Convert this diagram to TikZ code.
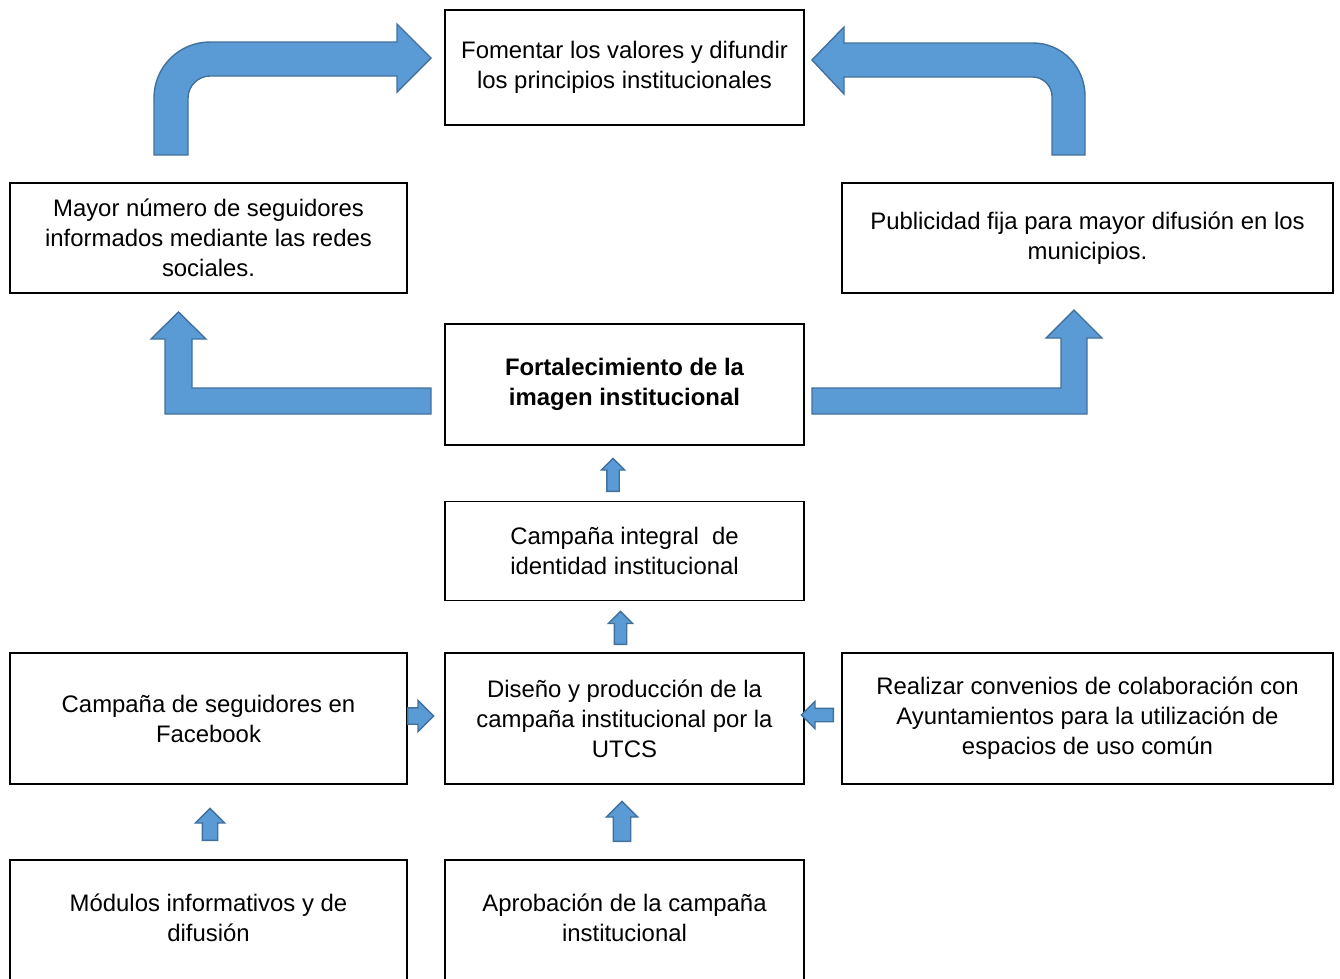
\documentclass[tikz,border=0pt]{standalone}
\usepackage{fontspec}
\setmainfont{Liberation Sans}
\usetikzlibrary{shapes.arrows}
\definecolor{arrowfill}{HTML}{5B9BD5}
\definecolor{arrowline}{HTML}{41719C}
\tikzset{box/.style={draw,line width=1.1pt,align=center,inner sep=0pt,
    font=\fontsize{13.6}{17.1}\selectfont},
  blockarrow/.style={single arrow,draw=arrowline,fill=arrowfill,line width=0.8pt,
    inner xsep=0pt,single arrow tip angle=90,anchor=tail},
  bigarrow/.style={draw=arrowline,fill=arrowfill,line width=0.8pt,line join=miter}}
\begin{document}
\begin{tikzpicture}[x=0.02cm,y=-0.02cm]
        \clip (0,0) rectangle (1340,978);
        \fill[white] (0,0) rectangle (1340,978);

        \node [box,minimum width=7.18cm,minimum height=2.3cm] (fomentar) at (624.5,67.5)
          {Fomentar los valores y difundir\\los principios institucionales};
        \node [box,minimum width=7.94cm,minimum height=2.2cm] (mayor) at (208.5,238)
          {Mayor número de seguidores\\informados mediante las redes\\sociales.};
        \node [box,minimum width=9.82cm,minimum height=2.2cm] (publicidad) at (1087.5,238)
          {Publicidad fija para mayor difusión en los\\municipios.};
        \node [box,minimum width=7.18cm,minimum height=2.42cm,font=\fontsize{13.6}{17.1}\selectfont\bfseries]
          (fortalecimiento) at (624.5,384.5) {Fortalecimiento de la\\imagen institucional};
        \node [box,minimum width=7.18cm,minimum height=1.98cm] (integral) at (624.5,551)
          {Campaña integral\ \ de\\identidad institucional};
        \node [box,minimum width=7.18cm,minimum height=2.62cm] (diseno) at (624.5,718.5)
          {Diseño y producción de la\\campaña institucional por la\\UTCS};
        \node [box,minimum width=7.94cm,minimum height=2.62cm] (facebook) at (208.5,718.5)
          {Campaña de seguidores en\\Facebook};
        \node [box,minimum width=9.82cm,minimum height=2.62cm] (convenios) at (1087.5,718.5)
          {Realizar convenios de colaboración con\\Ayuntamientos para la utilización de\\espacios de uso común};
        % the two lowest boxes run past the bottom edge
        \node [box,minimum width=7.94cm,minimum height=2.6cm,text depth=0.28cm] (modulos) at (208.5,925)
          {Módulos informativos y de\\difusión};
        \node [box,minimum width=7.18cm,minimum height=2.6cm,text depth=0.28cm] (aprobacion) at (624.5,925)
          {Aprobación de la campaña\\institucional};

        % small arrows between the boxes
        \node [blockarrow,rotate=90,minimum height=0.66cm,inner ysep=0.11cm,
          single arrow head extend=0.11cm] (integral-up) at (613,492) {};
        \node [blockarrow,rotate=90,minimum height=0.66cm,inner ysep=0.11cm,
          single arrow head extend=0.12cm] (diseno-up) at (620.5,645) {};
        \node [blockarrow,rotate=90,minimum height=0.8cm,inner ysep=0.16cm,
          single arrow head extend=0.14cm] (aprobacion-up) at (622,842) {};
        \node [blockarrow,rotate=90,minimum height=0.64cm,inner ysep=0.14cm,
          single arrow head extend=0.14cm] (modulos-up) at (210,841) {};
        \node [blockarrow,minimum height=0.52cm,inner ysep=0.15cm,
          single arrow head extend=0.15cm] (facebook-right) at (407,716) {};
        \node [blockarrow,rotate=180,minimum height=0.64cm,inner ysep=0.12cm,
          single arrow head extend=0.14cm] (convenios-left) at (834,715) {};

        % bent arrows
        \draw [bigarrow] (431,388) -- (431,414) -- (165,414) -- (165,339) -- (151,339)
          -- (178.5,312) -- (206,339) -- (192,339) -- (192,388) -- cycle;
        \draw [bigarrow] (812,388) -- (1061,388) -- (1061,338) -- (1046,338) -- (1074,310)
          -- (1102,338) -- (1087,338) -- (1087,414) -- (812,414) -- cycle;
        \draw [bigarrow] (154,155) -- (154,98) .. controls (154,67) and (179,42) .. (210,42)
          -- (397,42) -- (397,24) -- (431,58) -- (397,92) -- (397,76) -- (210,76)
          .. controls (198,76) and (188,86) .. (188,98) -- (188,155) -- cycle;
        \draw [bigarrow] (1085,155) -- (1085,96) .. controls (1085,67) and (1062,43) .. (1033,43)
          -- (844,43) -- (844,27) -- (812,60) -- (844,94) -- (844,77) -- (1033,77)
          .. controls (1043,77) and (1052,86) .. (1052,96) -- (1052,155) -- cycle;
      \end{tikzpicture}
\end{document}
